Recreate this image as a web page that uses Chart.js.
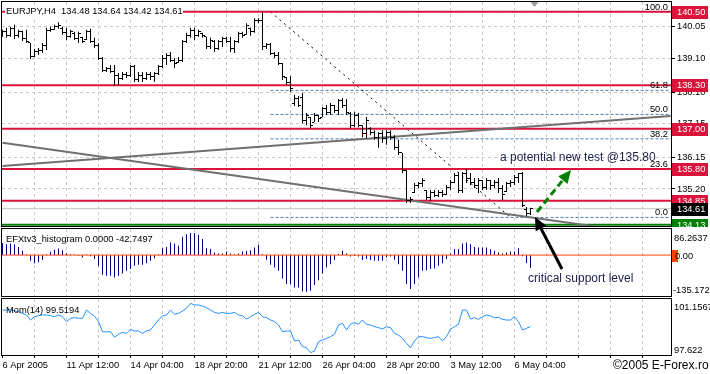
<!DOCTYPE html>
<html>
<head>
<meta charset="utf-8">
<script src="https://cdn.jsdelivr.net/npm/chart.js@4.4.1/dist/chart.umd.min.js"></script>
<style>
html,body{margin:0;padding:0;background:#fff;}
#wrap{position:relative;width:710px;height:374px;overflow:hidden;background:#fff;}
canvas{position:absolute;left:0;}
#c1{top:0;} #c2{top:228px;} #c3{top:298px;}
</style>
</head>
<body>
<div id="wrap">
  <canvas id="c1" width="710" height="228"></canvas>
  <canvas id="c2" width="710" height="70"></canvas>
  <canvas id="c3" width="710" height="76"></canvas>
</div>
<script>
// EURJPY H4 bars, index 0 = 6 Apr 20:00, 4px per bar
const opens = [139.80,139.90,139.80,140.00,139.78,139.90,139.70,139.57,139.15,139.30,
  139.35,139.50,139.95,139.98,140.05,140.00,139.88,139.75,139.85,139.70,
  139.72,139.66,139.90,139.62,139.50,139.10,138.75,138.80,138.72,138.60,
  138.50,138.62,138.58,138.85,138.48,138.60,138.50,138.62,138.55,138.65,
  138.85,139.10,139.20,139.05,138.97,139.05,139.60,139.80,139.95,139.78,
  139.85,139.75,139.45,139.60,139.40,139.60,139.70,139.62,139.40,139.60,
  139.85,139.81,140.00,139.90,140.25,140.25,139.45,139.52,139.25,139.20,
  138.95,138.52,138.40,137.75,137.90,137.95,137.25,137.35,137.20,137.40,
  137.35,137.60,137.50,137.70,137.55,137.85,137.70,137.45,137.10,137.40,
  137.10,136.85,137.00,136.90,136.75,136.85,136.70,136.90,136.75,136.45,
  136.28,135.75,134.85,135.10,135.30,135.35,135.15,134.95,135.10,135.00,
  135.10,135.05,135.25,135.40,135.60,135.15,135.65,135.50,135.40,135.30,
  135.45,135.25,135.45,135.30,135.40,135.20,135.11,135.35,135.40,135.55,
  135.65,134.60,134.48];
const highs = [139.96,140.02,140.05,140.11,139.96,139.93,139.96,139.57,139.39,139.42,
  139.57,140.02,140.05,140.11,140.19,140.05,140.02,139.96,139.90,139.90,
  139.75,139.96,139.99,139.72,139.57,139.15,138.85,138.91,138.91,138.67,
  138.70,138.70,138.91,138.91,138.70,138.70,138.70,138.70,138.70,138.91,
  139.21,139.27,139.30,139.12,139.15,139.66,139.87,140.02,140.02,139.96,
  139.87,139.75,139.72,139.66,139.66,139.75,139.75,139.75,139.66,139.90,
  139.90,140.16,140.02,140.31,140.31,140.49,139.57,139.57,139.30,139.30,
  138.97,138.55,138.58,138.01,137.98,138.07,137.47,137.35,137.47,137.41,
  137.65,137.71,137.77,137.71,137.89,137.92,137.89,137.50,137.50,137.47,
  137.11,137.35,137.05,136.96,136.90,136.96,136.96,136.96,136.81,136.67,
  136.28,135.77,134.96,135.38,135.41,135.53,135.17,135.17,135.17,135.17,
  135.17,135.32,135.47,135.68,135.71,135.71,135.80,135.68,135.53,135.53,
  135.47,135.53,135.47,135.47,135.53,135.32,135.41,135.47,135.62,135.68,
  135.71,134.66,134.64];
const lows = [139.75,139.72,139.75,139.69,139.72,139.63,139.57,139.09,139.15,139.21,
  139.27,139.36,139.90,139.96,139.99,139.81,139.66,139.72,139.66,139.57,
  139.57,139.66,139.57,139.42,139.06,138.70,138.70,138.67,138.28,138.31,
  138.46,138.52,138.55,138.40,138.40,138.40,138.46,138.46,138.40,138.61,
  138.82,138.91,139.00,138.82,138.97,139.00,139.57,139.72,139.66,139.75,
  139.72,139.39,139.39,139.30,139.36,139.45,139.57,139.30,139.27,139.57,
  139.72,139.81,139.78,139.87,140.16,139.36,139.39,139.21,139.12,138.91,
  138.46,138.31,138.10,137.68,137.65,137.17,137.11,137.02,137.20,137.20,
  137.35,137.41,137.41,137.47,137.41,137.62,137.41,137.02,137.05,137.05,
  136.75,136.72,136.81,136.67,136.43,136.58,136.52,136.67,136.37,136.22,
  135.68,134.78,134.78,135.08,135.23,135.26,134.87,134.84,134.96,134.96,
  134.96,135.02,135.17,135.38,135.08,135.08,135.38,135.32,135.23,135.08,
  135.17,135.17,135.17,135.23,135.08,134.87,135.11,135.26,135.32,135.38,
  134.66,134.39,134.42];
const closes = [139.90,139.80,140.00,139.78,139.90,139.70,139.60,139.15,139.30,139.35,
  139.50,139.95,139.98,140.05,140.10,139.88,139.75,139.90,139.70,139.85,
  139.62,139.90,139.62,139.50,139.10,138.75,138.80,138.72,138.60,138.50,
  138.62,138.58,138.85,138.48,138.60,138.50,138.62,138.55,138.65,138.85,
  139.10,139.20,139.05,138.95,139.05,139.60,139.80,139.95,139.78,139.90,
  139.78,139.45,139.65,139.40,139.60,139.70,139.62,139.40,139.60,139.85,
  139.80,140.10,139.90,140.25,140.25,139.45,139.52,139.25,139.20,138.95,
  138.55,138.40,138.20,137.90,137.70,137.25,137.40,137.10,137.40,137.30,
  137.60,137.50,137.70,137.55,137.85,137.70,137.50,137.10,137.40,137.10,
  136.85,137.25,136.90,136.75,136.85,136.70,136.90,136.75,136.45,136.30,
  135.75,134.85,134.90,135.30,135.35,135.45,134.95,135.10,135.00,135.10,
  135.05,135.25,135.40,135.60,135.15,135.65,135.50,135.40,135.30,135.45,
  135.25,135.45,135.30,135.40,135.20,135.05,135.35,135.40,135.55,135.65,
  134.70,134.48,134.61];

const histValues = [40,36,38,36,27,14,2,-19,-27,-24,
  -16,3,11,18,22,16,6,3,2,-2,
  -8,2,-4,-13,-35,-65,-68,-68,-74,-68,
  -61,-52,-46,-35,-32,-32,-27,-19,-10,3,
  23,27,42,38,31,61,69,73,73,67,
  53,23,20,9,5,5,12,5,3,5,
  12,14,16,25,34,3,-15,-32,-41,-52,
  -77,-96,-96,-107,-107,-120,-121,-118,-99,-83,
  -61,-41,-30,-16,4,14,5,-5,-3,-5,
  -16,-13,-16,-19,-19,-19,-8,-5,-15,-30,
  -52,-96,-112,-96,-74,-52,-50,-46,-44,-35,
  -27,-13,5,20,20,38,42,36,27,25,
  25,25,20,14,9,5,9,12,12,23,
  -4,-27,-42.75];

const momValues = [100.46,100.46,100.48,100.40,100.36,100.25,100.15,99.83,100.04,100.10,
  100.15,100.15,100.10,100.04,100.15,100.04,99.73,99.94,99.98,99.94,
  99.94,100.46,100.25,100.08,99.73,99.09,99.09,99.09,98.74,98.93,
  99.05,98.99,99.24,99.14,99.14,98.99,99.14,99.20,99.52,99.83,
  100.10,100.15,100.46,100.19,100.25,100.40,100.57,100.88,100.78,100.78,
  100.71,100.61,100.46,100.31,100.25,100.31,100.25,100.25,100.31,100.15,
  100.10,99.89,100.04,100.19,100.31,100.04,99.98,99.83,99.73,99.52,
  99.09,99.14,99.14,98.51,98.57,98.15,98.08,97.77,97.87,98.46,
  98.57,98.67,98.78,98.93,99.52,99.62,99.20,99.56,99.68,99.56,
  99.83,99.56,99.52,99.41,99.35,99.26,99.41,99.35,98.99,98.88,
  98.67,98.36,98.08,98.51,98.78,98.78,98.72,98.67,98.72,98.78,
  98.51,98.78,99.26,99.41,99.56,100.46,100.46,99.89,99.98,99.87,
  100.04,100.15,100.08,99.98,100.00,99.87,99.83,99.83,100.04,99.73,
  99.20,99.31,99.41];

const gridIdx = [0,8,16,24,32,40,48,56,64,72,80,88,96,104,112,120,128,136,144,152,160];
const dateIdx = [0,16,32,48,64,80,96,112,128];
const dateLabels = ['6 Apr 2005','11 Apr 12:00','14 Apr 04:00','18 Apr 20:00','21 Apr 12:00',
  '26 Apr 04:00','28 Apr 20:00','3 May 12:00','6 May 04:00'];
const priceTicks = [140.05,139.10,138.10,137.15,136.15,135.20];
const levelPrices = [140.50,138.30,137.00,135.80,134.85];
const supportPrice = 134.13;
const bidPrice = 134.61;
const fibPrices = [140.50,138.15,137.43,136.70,135.80,134.35];
const fibLabels = ['100.0','61.8','50.0','38.2','23.6','0.0'];
const fibDiag = [{x:67,y:140.50},{x:127,y:134.35}];
const trendDown = [{x:0,y:136.58},{x:167,y:133.76}];
const trendUp = [{x:0,y:135.89},{x:167,y:137.38}];

const xMin = -0.125, xMax = 167.125;
const F = '"Liberation Sans", Arial, sans-serif';
const FS = 9.3;
Chart.defaults.font.family = F;
Chart.defaults.font.size = FS;
Chart.defaults.color = '#000';

function tickImg(left){
  const c = document.createElement('canvas'); c.width = 5; c.height = 1;
  const g = c.getContext('2d'); g.fillStyle = '#000'; g.fillRect(left ? 0 : 3, 0, 2, 1);
  return c;
}
const openImg = tickImg(true), closeImg = tickImg(false);

function frame(chart){
  const {ctx, chartArea:a} = chart;
  ctx.save(); ctx.strokeStyle = '#000'; ctx.lineWidth = 1;
  ctx.strokeRect(a.left-0.5, a.top-0.5, a.right-a.left+1, a.bottom-a.top+1);
  ctx.restore();
}
function arrow(ctx, x1, y1, x2, y2, color, dash){
  const ang = Math.atan2(y2-y1, x2-x1), hl = 13, hw = 6;
  const bx = x2 - hl*Math.cos(ang), by = y2 - hl*Math.sin(ang);
  ctx.save(); ctx.strokeStyle = color; ctx.fillStyle = color; ctx.lineWidth = 3; ctx.setLineDash(dash);
  ctx.beginPath(); ctx.moveTo(x1, y1); ctx.lineTo(bx, by); ctx.stroke();
  ctx.setLineDash([]);
  ctx.beginPath(); ctx.moveTo(x2, y2);
  ctx.lineTo(bx + hw*Math.sin(ang), by - hw*Math.cos(ang));
  ctx.lineTo(bx - hw*Math.sin(ang), by + hw*Math.cos(ang));
  ctx.closePath(); ctx.fill(); ctx.restore();
}
// notes are placed in page coordinates, each canvas shows its own slice
function drawNotes(ctx, top){
  ctx.save(); ctx.translate(0, -top);
  arrow(ctx, 537, 212, 571, 170, '#008000', [7,4]);
  arrow(ctx, 562, 269, 535, 217, '#000', []);
  ctx.font = '12px ' + F; ctx.fillStyle = '#1c2048'; ctx.textAlign = 'left'; ctx.textBaseline = 'middle';
  ctx.fillText('a potential new test @135.80', 500, 158);
  ctx.fillText('critical support level', 528, 279);
  ctx.restore();
}
function txt(ctx, s, x, y, size){
  ctx.font = (size || FS) + 'px ' + F; ctx.fillStyle = '#000'; ctx.textAlign = 'left'; ctx.textBaseline = 'middle';
  ctx.fillText(s, x, y);
}
function priceBox(ctx, x, yc, bg, label){
  const t = Math.round(yc) - 6;
  ctx.fillStyle = bg; ctx.fillRect(x, t, 36, 13);
  ctx.font = FS + 'px ' + F; ctx.fillStyle = '#fff'; ctx.textAlign = 'left'; ctx.textBaseline = 'middle';
  ctx.fillText(label, x+5, t+6.5);
}

function xAxis(showLabels){
  return {
    type:'linear', min:xMin, max:xMax, offset:false,
    afterBuildTicks: s => { s.ticks = gridIdx.map(v => ({value:v})); },
    afterFit: s => { s.height = showLabels ? 19 : 0; s.paddingLeft = 0; s.paddingRight = 0; },
    grid:{ color: c => (c.tick && c.tick.value === 0) ? 'rgba(0,0,0,0)' : '#c8c8c8', offset:false,
      drawTicks: showLabels, tickLength:3, tickColor:'#000', tickBorderDash:[], lineWidth:1 },
    border:{ display:false, dash:[3,3] },
    ticks:{ display: showLabels, autoSkip:false, maxRotation:0, minRotation:0, align:'start', padding:2,
      color:'#000', font:{size:FS}, callback: v => { const k = dateIdx.indexOf(v); return k < 0 ? '' : dateLabels[k]; } }
  };
}
function hline(p, color, width, dash, order, from){
  return { type:'line', data:[{x: from === undefined ? xMin : from, y:p},{x:xMax, y:p}], borderColor:color,
    borderWidth:width, borderDash:dash || [], pointRadius:0, order:order, clip:0 };
}
const common = { responsive:false, animation:false, events:[],
  plugins:{ legend:{display:false}, tooltip:{enabled:false} } };

// main price panel
new Chart(document.getElementById('c1'), {
  type:'line',
  data:{ datasets:[
    { type:'bar', data: highs.map((h,i) => ({x:i, y:[lows[i], h]})), backgroundColor:'#000',
      barThickness:1, inflateAmount:0, order:0, clip:0 },
    { type:'line', data: opens.map((v,i) => ({x:i, y:v})), showLine:false, pointStyle:openImg, pointRadius:1, order:0, clip:0 },
    { type:'line', data: closes.map((v,i) => ({x:i, y:v})), showLine:false, pointStyle:closeImg, pointRadius:1, order:0, clip:0 },
    ...fibPrices.map(p => hline(p, '#4a7eb0', 1, [3,2], 6, fibDiag[0].x)),
    { type:'line', data: fibDiag, borderColor:'#000', borderWidth:1, borderDash:[2,4], pointRadius:0, order:5, clip:0 },
    hline(bidPrice, '#c0c0c0', 1, [], 6),
    ...levelPrices.map(p => hline(p, '#dc143c', 2, [], 4)),
    hline(supportPrice, '#008000', 2, [], 4),
    { type:'line', data: trendDown, borderColor:'#707070', borderWidth:2, pointRadius:0, order:3, clip:0 },
    { type:'line', data: trendUp, borderColor:'#707070', borderWidth:2, pointRadius:0, order:3, clip:0 }
  ]},
  options:{ ...common,
    layout:{ padding:{left:2, top:2, right:0, bottom:2}, autoPadding:false },
    scales:{
      x: xAxis(false),
      y: { type:'linear', position:'right', min:134.093, max:140.793,
        afterBuildTicks: s => { s.ticks = priceTicks.map(v => ({value:v})); },
        afterFit: s => { s.width = 39; s.paddingTop = 0; s.paddingBottom = 0; },
        grid:{ color:'#c8c8c8', tickLength:4, tickColor:'#000', tickBorderDash:[] },
        border:{ display:false, dash:[3,3] },
        ticks:{ color:'#000', padding:2, font:{size:FS}, callback: v => Number(v).toFixed(2) } }
    }
  },
  plugins:[{ id:'mainDeco', afterDraw(chart){
    const {ctx, chartArea:a, scales:{x, y}} = chart;
    frame(chart);
    ctx.save();
    ctx.font = FS + 'px ' + F; ctx.fillStyle = '#000'; ctx.textAlign = 'right'; ctx.textBaseline = 'alphabetic';
    fibPrices.forEach((p,k) => ctx.fillText(fibLabels[k], a.right-3, y.getPixelForValue(p)-2));
    ctx.fillStyle = '#fff'; ctx.fillRect(5, 5, 178, 12);
    txt(ctx, 'EURJPY,H4  134.48 134.64 134.42 134.61', 6, 11);
    const sx = x.getPixelForValue(133);
    ctx.fillStyle = '#a0a0a0'; ctx.beginPath(); ctx.moveTo(sx-4, a.top); ctx.lineTo(sx+4, a.top); ctx.lineTo(sx, a.top+5); ctx.closePath(); ctx.fill();
    ctx.beginPath(); ctx.rect(a.right+1, 0, 40, a.bottom+1); ctx.clip();
    levelPrices.forEach(p => priceBox(ctx, a.right+1, y.getPixelForValue(p), '#dc143c', p.toFixed(2)));
    priceBox(ctx, a.right+1, y.getPixelForValue(bidPrice), '#000', bidPrice.toFixed(2));
    priceBox(ctx, a.right+1, y.getPixelForValue(supportPrice), '#008000', supportPrice.toFixed(2));
    ctx.restore();
    drawNotes(ctx, 0);
  }}]
});

// EFXtv3 histogram panel
new Chart(document.getElementById('c2'), {
  type:'line',
  data:{ datasets:[
    { type:'bar', data: histValues.map((v,i) => ({x:i, y:v})), backgroundColor:'#000080',
      barThickness:1, inflateAmount:0, order:1, clip:0 },
    hline(0, '#ff4500', 1, [], 0)
  ]},
  options:{ ...common,
    layout:{ padding:{left:2, top:1, right:39, bottom:2}, autoPadding:false },
    scales:{ x: xAxis(false), y:{ type:'linear', display:false, min:-135.172, max:86.2637 } }
  },
  plugins:[{ id:'histDeco', afterDraw(chart){
    const ctx = chart.ctx;
    frame(chart);
    ctx.save(); ctx.translate(0, -228);
    txt(ctx, 'EFXtv3_histogram 0.0000 -42.7497', 6, 239);
    txt(ctx, '86.2637', 674, 238);
    ctx.fillStyle = '#ff4500'; ctx.fillRect(672, 250, 6, 12);
    txt(ctx, '0.00', 675, 256);
    txt(ctx, '-135.172', 673, 290);
    ctx.restore();
    drawNotes(ctx, 228);
  }}]
});

// Momentum(14) panel
new Chart(document.getElementById('c3'), {
  type:'line',
  data:{ datasets:[
    { type:'line', data: momValues.map((v,i) => ({x:i, y:v})), borderColor:'#1e90ff', borderWidth:1,
      pointRadius:0, tension:0, clip:0 }
  ]},
  options:{ ...common,
    layout:{ padding:{left:2, top:1, right:39, bottom:0}, autoPadding:false },
    scales:{ x: xAxis(true), y:{ type:'linear', display:false, min:97.622, max:101.1567 } }
  },
  plugins:[{ id:'momDeco', afterDraw(chart){
    const ctx = chart.ctx;
    frame(chart);
    ctx.save(); ctx.translate(0, -298);
    txt(ctx, 'Mom(14) 99.5194', 6, 310);
    txt(ctx, '101.1567', 674, 307);
    txt(ctx, '97.622', 674, 350);
    txt(ctx, '\u00a92005 E-Forex.ro', 613, 366, 12);
    ctx.restore();
  }}]
});
</script>
</body>
</html>
